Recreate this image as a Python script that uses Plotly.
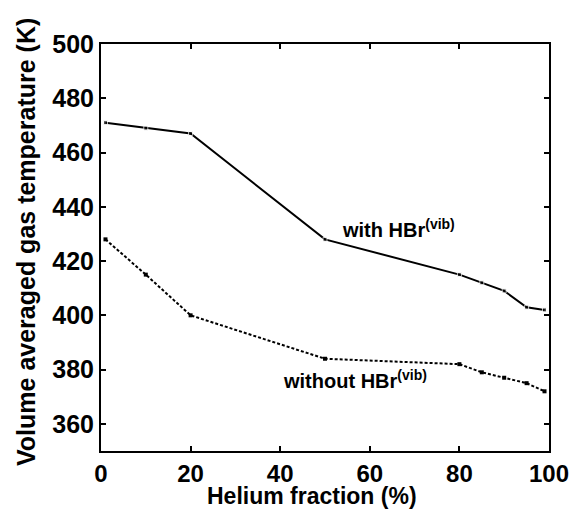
import plotly.graph_objects as go

helium_with = [1, 10, 20, 30, 50, 80, 85, 90, 95, 99]
temp_with = [471, 469, 467, 454, 428, 415, 412, 409, 403, 402]

helium_without = [1, 10, 20, 50, 80, 85, 90, 95, 99]
temp_without = [428, 415, 400, 384, 382, 379, 377, 375, 372]

x_ticks = [0, 20, 40, 60, 80, 100]
y_ticks = [360, 380, 400, 420, 440, 460, 480, 500]

x_title = "Helium fraction (%)"
y_title = "Volume averaged gas temperature (K)"

FONT = "Liberation Sans, Arial, sans-serif"

fig = go.Figure()
fig.add_trace(go.Scatter(
    x=helium_with, y=temp_with, mode="lines+markers",
    line=dict(color="black", width=2),
    marker=dict(symbol="square", color="black",
                size=[4, 4, 4, 0, 4, 4, 4, 4, 4, 4]),
    showlegend=False))
fig.add_trace(go.Scatter(
    x=helium_without, y=temp_without, mode="lines+markers",
    line=dict(color="black", width=2, dash="3px,2px"),
    marker=dict(symbol="square", color="black", size=4),
    showlegend=False))

fig.add_annotation(x=66.5, y=432, text="with HBr<sup>(vib)</sup>",
                   showarrow=False,
                   font=dict(family=FONT, size=20, color="black", weight="bold"))
fig.add_annotation(x=56.7, y=376.5, text="without HBr<sup>(vib)</sup>",
                   showarrow=False,
                   font=dict(family=FONT, size=20, color="black", weight="bold"))

x_tick_font = dict(family=FONT, size=24, color="black", weight="bold")
y_tick_font = dict(family=FONT, size=25, color="black", weight="bold")
x_title_font = dict(family=FONT, size=23, color="black", weight="bold")
y_title_font = dict(family=FONT, size=25, color="black", weight="bold")

# axis titles as annotations for precise placement
fig.add_annotation(xref="paper", yref="paper", x=0.471, y=-0.11,
                   text=x_title, showarrow=False, font=x_title_font,
                   xanchor="center", yanchor="middle")
fig.add_annotation(xref="paper", yref="paper", x=-0.1674, y=0.5135,
                   text=y_title, showarrow=False, font=y_title_font, textangle=-90,
                   xanchor="center", yanchor="middle")

axis_common = dict(showline=True, linecolor="black", linewidth=2, mirror="ticks",
                   ticks="inside", ticklen=5, tickwidth=2, tickcolor="black",
                   showgrid=False, zeroline=False, automargin=False)

fig.update_xaxes(range=[0, 100], tickvals=x_ticks, tickfont=x_tick_font, **axis_common)
fig.update_yaxes(range=[350, 500], tickvals=y_ticks, tickfont=y_tick_font, **axis_common)

fig.update_layout(width=571, height=510, plot_bgcolor="white", paper_bgcolor="white",
                  margin=dict(l=101, r=22, t=44, b=59),
                  font=dict(family=FONT, color="black"))

fig.write_html("out.html")
